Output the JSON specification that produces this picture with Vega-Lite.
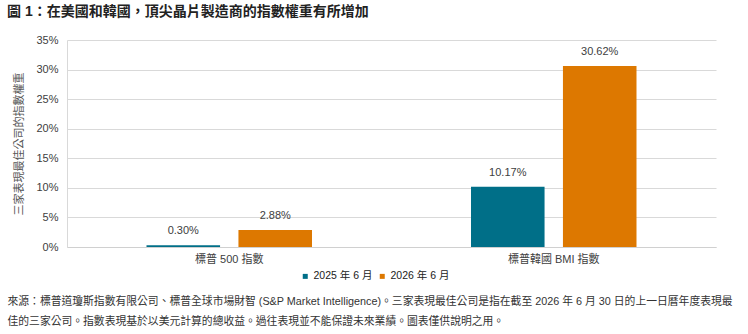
{
  "$schema": "https://vega.github.io/schema/vega-lite/v6.json",
  "width": 649,
  "height": 207,
  "autosize": {"type": "none"},
  "padding": {"left": 67, "top": 40, "right": 32, "bottom": 87},
  "background": "white",
  "title": {
    "text": "圖 1：在美國和韓國，頂尖晶片製造商的指數權重有所增加",
    "anchor": "start",
    "frame": "group",
    "dx": -60,
    "offset": 15,
    "fontSize": 14,
    "fontWeight": "bold",
    "font": "Liberation Sans, Noto Sans CJK TC",
    "color": "#222222"
  },
  "config": {
    "view": {"stroke": null},
    "font": "Liberation Sans, Noto Sans CJK TC"
  },
  "data": {
    "values": [
      {"index": "標普 500 指數", "period": "2025 年 6 月", "value": 0.0030},
      {"index": "標普 500 指數", "period": "2026 年 6 月", "value": 0.0288},
      {"index": "標普韓國 BMI 指數", "period": "2025 年 6 月", "value": 0.1017},
      {"index": "標普韓國 BMI 指數", "period": "2026 年 6 月", "value": 0.3062}
    ]
  },
  "encoding": {
    "x": {
      "field": "index",
      "type": "nominal",
      "sort": null,
      "scale": {"paddingInner": 0.49, "paddingOuter": 0.245},
      "axis": {
        "title": [
          "來源：標普道瓊斯指數有限公司、標普全球市場財智 (S&P Market Intelligence)。三家表現最佳公司是指在截至 2026 年 6 月 30 日的上一日曆年度表現最",
          "佳的三家公司。指數表現基於以美元計算的總收益。過往表現並不能保證未來業績。圖表僅供說明之用。"
        ],
        "titleAnchor": "start",
        "titleAlign": "left",
        "titleBaseline": "alphabetic",
        "titleX": -60,
        "titleY": 57,
        "titleLineHeight": 20,
        "titleFontSize": 10.8,
        "titleFontWeight": "normal",
        "titleColor": "#333333",
        "labelAngle": 0,
        "labelFontSize": 11,
        "labelColor": "#404040",
        "labelPadding": 6,
        "ticks": false,
        "domainColor": "#d0d0d0",
        "domainWidth": 1
      }
    },
    "xOffset": {
      "field": "period",
      "type": "nominal",
      "sort": null,
      "scale": {"paddingInner": 0.2, "paddingOuter": 0}
    },
    "y": {
      "field": "value",
      "type": "quantitative",
      "scale": {"domain": [0, 0.35], "nice": false},
      "axis": {
        "title": "三家表現最佳公司的指數權重",
        "titleFontSize": 11,
        "titleFontWeight": "normal",
        "titleColor": "#555555",
        "titlePadding": 11,
        "values": [0, 0.05, 0.1, 0.15, 0.2, 0.25, 0.3, 0.35],
        "format": ".0%",
        "labelFontSize": 11,
        "labelColor": "#404040",
        "labelPadding": 9,
        "ticks": false,
        "domain": true,
        "domainColor": "#d9d9d9",
        "gridColor": "#d9d9d9",
        "gridWidth": 1
      }
    }
  },
  "layer": [
    {
      "mark": {"type": "bar"},
      "encoding": {
        "color": {
          "field": "period",
          "type": "nominal",
          "sort": null,
          "scale": {"range": ["#006f88", "#dd7800"]},
          "legend": {
            "title": null,
            "orient": "none",
            "direction": "horizontal",
            "legendX": 233,
            "legendY": 231,
            "symbolType": "square",
            "symbolSize": 25,
            "symbolStrokeWidth": 0,
            "labelFontSize": 10.5,
            "labelColor": "#222222",
            "labelOffset": 3,
            "columnPadding": 4
          }
        }
      }
    },
    {
      "mark": {"type": "text", "dy": -9, "fontSize": 11, "color": "#404040", "baseline": "bottom"},
      "encoding": {
        "text": {"field": "value", "type": "quantitative", "format": ".2%"}
      }
    }
  ]
}
